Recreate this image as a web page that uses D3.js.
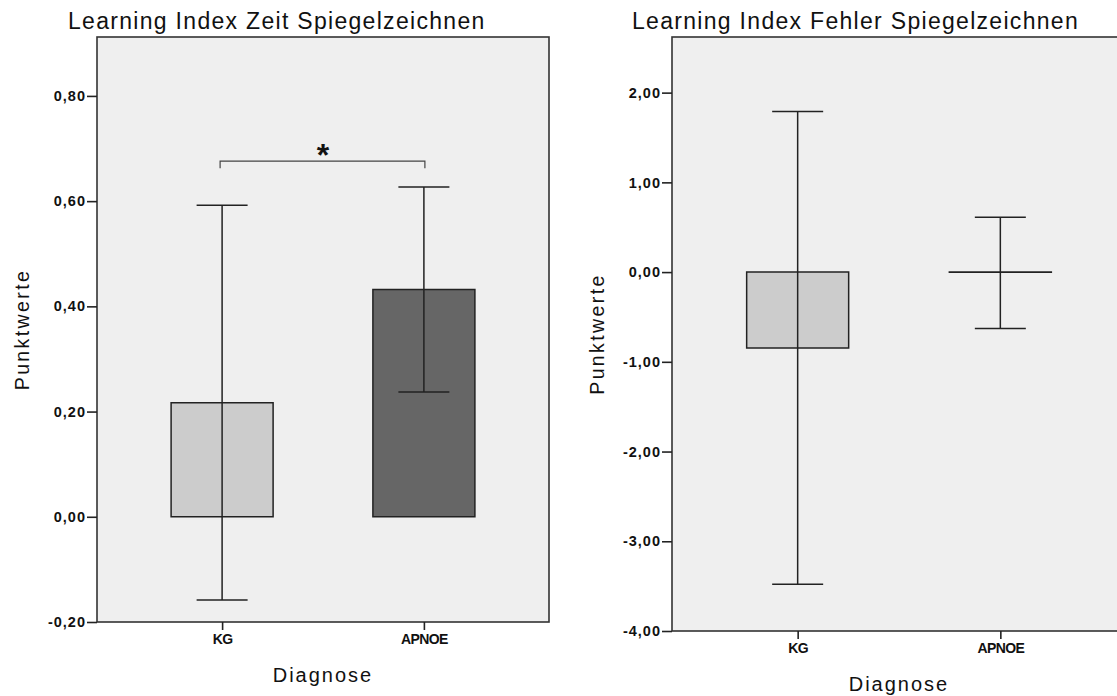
<!DOCTYPE html>
<html>
<head>
<meta charset="utf-8">
<script src="https://cdn.jsdelivr.net/npm/d3@7"></script>
<style>
body { margin:0; background:#fff; }
text { font-family: "Liberation Sans", Arial, sans-serif; fill:#111; }
</style>
</head>
<body>
<script>
var svgWidth = 1117;
var svgHeight = 696;

// Daten
var categories = ["KG", "APNOE"];
var zeitMeans = [0.217, 0.432];
var zeitLower = [-0.158, 0.237];
var zeitUpper = [0.592, 0.627];
var zeitTicks = [-0.2, 0, 0.2, 0.4, 0.6, 0.8];
var zeitSig = 0.676; // Signifikanzklammer

var fehlerMeans = [-0.847, -0.003];
var fehlerLower = [-3.48, -0.63];
var fehlerUpper = [1.79, 0.61];
var fehlerTicks = [-4, -3, -2, -1, 0, 1, 2];

var barColors = ["#cccccc", "#666666"];

var svg = d3.select("body").append("svg")
	.attr("width", svgWidth)
	.attr("height", svgHeight);

var fmt = function(d) { return d3.format(".2f")(d).replace(".", ",").replace("−", "-"); };

drawPanel({
	title: "Learning Index Zeit Spiegelzeichnen", titleX: 68,
	x0: 97, x1: 549, y0: 37, y1: 622,
	domain: [-0.2, 0.912],
	means: zeitMeans, lower: zeitLower, upper: zeitUpper, ticks: zeitTicks,
	colors: barColors, ylabX: 29, xlabY: 682, sig: zeitSig
});

drawPanel({
	title: "Learning Index Fehler Spiegelzeichnen", titleX: 632,
	x0: 672, x1: 1126, y0: 37, y1: 631,
	domain: [-4, 2.62],
	means: fehlerMeans, lower: fehlerLower, upper: fehlerUpper, ticks: fehlerTicks,
	colors: [barColors[0], barColors[0]], ylabX: 604, xlabY: 691, sig: null
});

function drawPanel(p) {
	var g = svg.append("g");
	var x = d3.scalePoint().domain(categories).range([p.x0, p.x1]).padding(0.62);
	var y = d3.scaleLinear().domain(p.domain).range([p.y1, p.y0]);
	var barW = 102, capW = 51;

	// Hintergrund
	g.append("rect")
		.attr("x", p.x0).attr("y", p.y0)
		.attr("width", p.x1 - p.x0).attr("height", p.y1 - p.y0)
		.attr("fill", "#efefef").attr("stroke", "#333").attr("stroke-width", 1.6);

	// Balken
	g.selectAll("path.bar").data(categories).enter().append("path")
		.attr("class", "bar")
		.attr("d", function(d, i) {
			var xl = x(d) - barW / 2;
			return "M" + xl + "," + y(0) + "H" + (xl + barW) + "V" + y(p.means[i]) + "H" + xl + "Z";
		})
		.attr("fill", function(d, i) { return p.colors[i]; })
		.attr("stroke", "#222").attr("stroke-width", 1.5);

	// Fehlerbalken
	var eb = g.selectAll("g.err").data(categories).enter().append("g").attr("class", "err")
		.attr("stroke", "#222").attr("stroke-width", 1.5);
	eb.append("line")
		.attr("x1", function(d) { return x(d); }).attr("x2", function(d) { return x(d); })
		.attr("y1", function(d, i) { return y(p.lower[i]); })
		.attr("y2", function(d, i) { return y(p.upper[i]); });
	[p.lower, p.upper].forEach(function(arr) {
		eb.append("line")
			.attr("x1", function(d) { return x(d) - capW / 2; })
			.attr("x2", function(d) { return x(d) + capW / 2; })
			.attr("y1", function(d, i) { return y(arr[i]); })
			.attr("y2", function(d, i) { return y(arr[i]); });
	});

	// Y-Achse
	var ya = g.append("g").attr("transform", "translate(" + p.x0 + ",0)")
		.call(d3.axisLeft(y).tickValues(p.ticks).tickFormat(fmt).tickSize(10).tickPadding(1));
	ya.select(".domain").remove();
	ya.selectAll("line").attr("stroke", "#222").attr("stroke-width", 1.6);
	ya.selectAll("text").style("font-size", "14.5px").attr("font-weight", "bold")
		.style("letter-spacing", "1px").attr("fill", "#111")
		.style("font-family", "'Liberation Sans', Arial, sans-serif");

	// X-Achse
	var xa = g.append("g").attr("transform", "translate(0," + p.y1 + ")")
		.call(d3.axisBottom(x).tickSize(8).tickPadding(4));
	xa.select(".domain").remove();
	xa.selectAll("line").attr("stroke", "#222").attr("stroke-width", 1.6);
	xa.selectAll("text").style("font-size", "14px").attr("font-weight", "bold")
		.style("letter-spacing", "-0.6px").attr("fill", "#111")
		.style("font-family", "'Liberation Sans', Arial, sans-serif");

	// Titel
	g.append("text").attr("x", p.titleX).attr("y", 29)
		.style("font-size", "23px").style("letter-spacing", "1.3px")
		.text(p.title);

	g.append("text")
		.attr("transform", "translate(" + p.ylabX + "," + ((p.y0 + p.y1) / 2) + ") rotate(-90)")
		.attr("text-anchor", "middle").style("font-size", "19.5px").style("letter-spacing", "2.4px")
		.text("Punktwerte");

	g.append("text").attr("x", (x("KG") + x("APNOE")) / 2).attr("y", p.xlabY)
		.attr("text-anchor", "middle").style("font-size", "20px").style("letter-spacing", "2px")
		.text("Diagnose");

	// Signifikanz
	if (p.sig !== null) {
		var yb = y(p.sig);
		g.append("path")
			.attr("d", "M" + (x("KG") - 2) + "," + (yb + 7) + "V" + yb + "H" + (x("APNOE") + 1) + "V" + (yb + 7))
			.attr("fill", "none").attr("stroke", "#444").attr("stroke-width", 1.2);
		g.append("text").attr("x", (x("KG") + x("APNOE")) / 2).attr("y", yb + 5)
			.attr("text-anchor", "middle").style("font-size", "32px").attr("font-weight", "bold")
			.text("*");
	}
}
</script>
</body>
</html>
